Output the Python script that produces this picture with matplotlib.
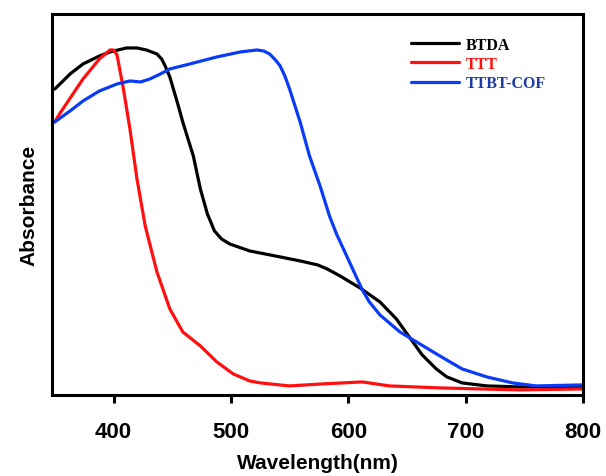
import matplotlib
matplotlib.use("Agg")
import matplotlib.pyplot as plt

# Wavelength (nm) and absorbance (a.u.)
btda_wl = [350, 357, 363, 374, 388, 397, 411, 420, 428, 437, 441, 444, 448, 451,
           455, 459, 468, 474, 480, 486, 492, 499, 516, 542, 559, 574, 582, 593,
           610, 627, 641, 652, 663, 675, 684, 697, 718, 746, 800]
btda_abs = [3.06, 3.14, 3.21, 3.31, 3.39, 3.43, 3.47, 3.47, 3.45, 3.41, 3.36, 3.29,
            3.18, 3.06, 2.90, 2.73, 2.39, 2.06, 1.81, 1.64, 1.56, 1.51, 1.44, 1.38,
            1.34, 1.30, 1.26, 1.19, 1.07, 0.93, 0.76, 0.58, 0.40, 0.26, 0.18, 0.12,
            0.09, 0.08, 0.08]

ttt_wl = [350, 354, 374, 388, 397, 400, 403, 408, 414, 420, 427, 437, 448, 459,
          474, 488, 502, 516, 525, 550, 578, 612, 635, 678, 746, 800]
ttt_abs = [2.73, 2.81, 3.16, 3.36, 3.45, 3.45, 3.40, 3.09, 2.66, 2.16, 1.69, 1.23,
           0.86, 0.63, 0.49, 0.33, 0.21, 0.14, 0.12, 0.09, 0.11, 0.13, 0.09, 0.07,
           0.05, 0.06]

cof_wl = [350, 363, 374, 388, 403, 414, 423, 431, 440, 448, 465, 488, 508, 522,
          528, 533, 538, 542, 546, 550, 559, 567, 576, 584, 590, 601, 612, 618,
          627, 644, 661, 678, 697, 718, 740, 760, 800]
cof_abs = [2.73, 2.84, 2.94, 3.04, 3.11, 3.14, 3.13, 3.16, 3.21, 3.26, 3.31, 3.38,
           3.43, 3.45, 3.44, 3.41, 3.35, 3.29, 3.19, 3.06, 2.73, 2.39, 2.09, 1.79,
           1.61, 1.33, 1.05, 0.93, 0.80, 0.63, 0.51, 0.39, 0.26, 0.18, 0.12, 0.09,
           0.10]

series = [
    ("BTDA", btda_wl, btda_abs, "#000000"),
    ("TTT", ttt_wl, ttt_abs, "#ff1010"),
    ("TTBT-COF", cof_wl, cof_abs, "#0a3cf5"),
]
legend_text_colors = ["#000000", "#ff1010", "#1c3ca8"]

fig = plt.figure(figsize=(6.06, 4.77), dpi=100)
ax = fig.add_axes([0.0866, 0.170, 0.8754, 0.7986])

for label, wl, ab, color in series:
    ax.plot(wl, ab, color=color, lw=2.3, label=label,
            solid_joinstyle="round", solid_capstyle="round")

ax.set_xlim(348, 800)
ax.set_ylim(0, 3.81)
ax.set_xticks([400, 500, 600, 700, 800])
ax.set_yticks([])

for sp in ax.spines.values():
    sp.set_linewidth(2.2)

ax.tick_params(axis="x", direction="out", length=6, width=2.2, pad=13,
               top=False, labelsize=16)
for lbl in ax.get_xticklabels():
    lbl.set_fontweight("bold")
    lbl.set_family("Liberation Sans")

ax.set_xlabel("Wavelength(nm)", fontsize=15, fontweight="bold",
              family="Liberation Sans", labelpad=8)
ax.set_ylabel("Absorbance", fontsize=15, fontweight="bold",
              family="Liberation Sans", labelpad=10)

leg = ax.legend(loc="upper left", bbox_to_anchor=(0.676, 0.94), frameon=False,
                borderpad=0, borderaxespad=0, handlelength=3.0, handletextpad=0.4,
                labelspacing=0.2,
                prop={"family": "Liberation Serif", "weight": "bold", "size": 11.5})
for txt, c in zip(leg.get_texts(), legend_text_colors):
    txt.set_color(c)

fig.savefig("out.png", dpi=100)
